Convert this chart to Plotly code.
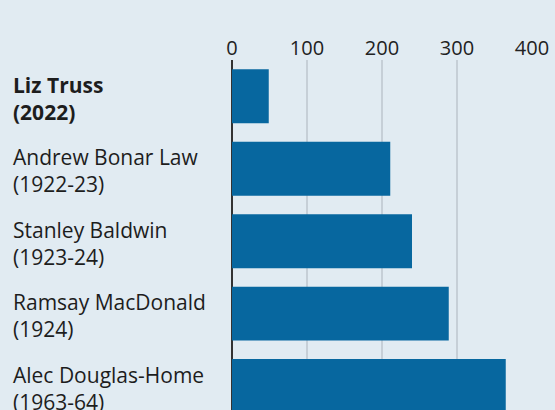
import plotly.graph_objects as go

names = ["Liz Truss", "Andrew Bonar Law", "Stanley Baldwin", "Ramsay MacDonald", "Alec Douglas-Home"]
terms = ["(2022)", "(1922-23)", "(1923-24)", "(1924)", "(1963-64)"]
days = [49, 211, 240, 289, 365]
ticks = [0, 100, 200, 300, 400]

BG = "#e1ebf2"
BLUE = "#07679f"
FONT = "Open Sans"

fig = go.Figure(
    go.Bar(
        x=days,
        y=names,
        orientation="h",
        width=0.745,
        marker=dict(color=BLUE, line=dict(width=0)),
        hoverinfo="skip",
    )
)

for i, (n, t) in enumerate(zip(names, terms)):
    txt = f"{n}<br>{t}"
    if i == 0:
        txt = f"<b>{n}<br>{t}</b>"
    fig.add_annotation(
        x=-0.737, xref="paper", y=n, yref="y", yshift=-2,
        text=txt, showarrow=False, xanchor="left", yanchor="middle", align="left",
        font=dict(family=FONT, size=21, color="#1d1d1d"),
    )

fig.update_xaxes(
    side="top", range=[0, 400], tickvals=ticks, showgrid=True,
    gridcolor="#c6cfd7", gridwidth=2,
    zeroline=True, zerolinecolor="#333333", zerolinewidth=2,
    tickfont=dict(family=FONT, size=20, color="#222222"),
    showline=False, ticks="", fixedrange=True,
)
fig.update_yaxes(
    categoryorder="array", categoryarray=names,
    range=[4.33, -0.5], showticklabels=False, showgrid=False,
    zeroline=False, showline=False, fixedrange=True,
)

fig.update_layout(
    width=555, height=410,
    margin=dict(l=232, r=23, t=60, b=0),
    paper_bgcolor=BG, plot_bgcolor=BG,
    showlegend=False, bargap=0.25,
)

# drop the browser's default body margin so the figure sits at the page corner
fig.write_html("out.html", config={"displayModeBar": False},
               post_script="document.body.style.margin='0';document.body.style.background='" + BG + "';")
